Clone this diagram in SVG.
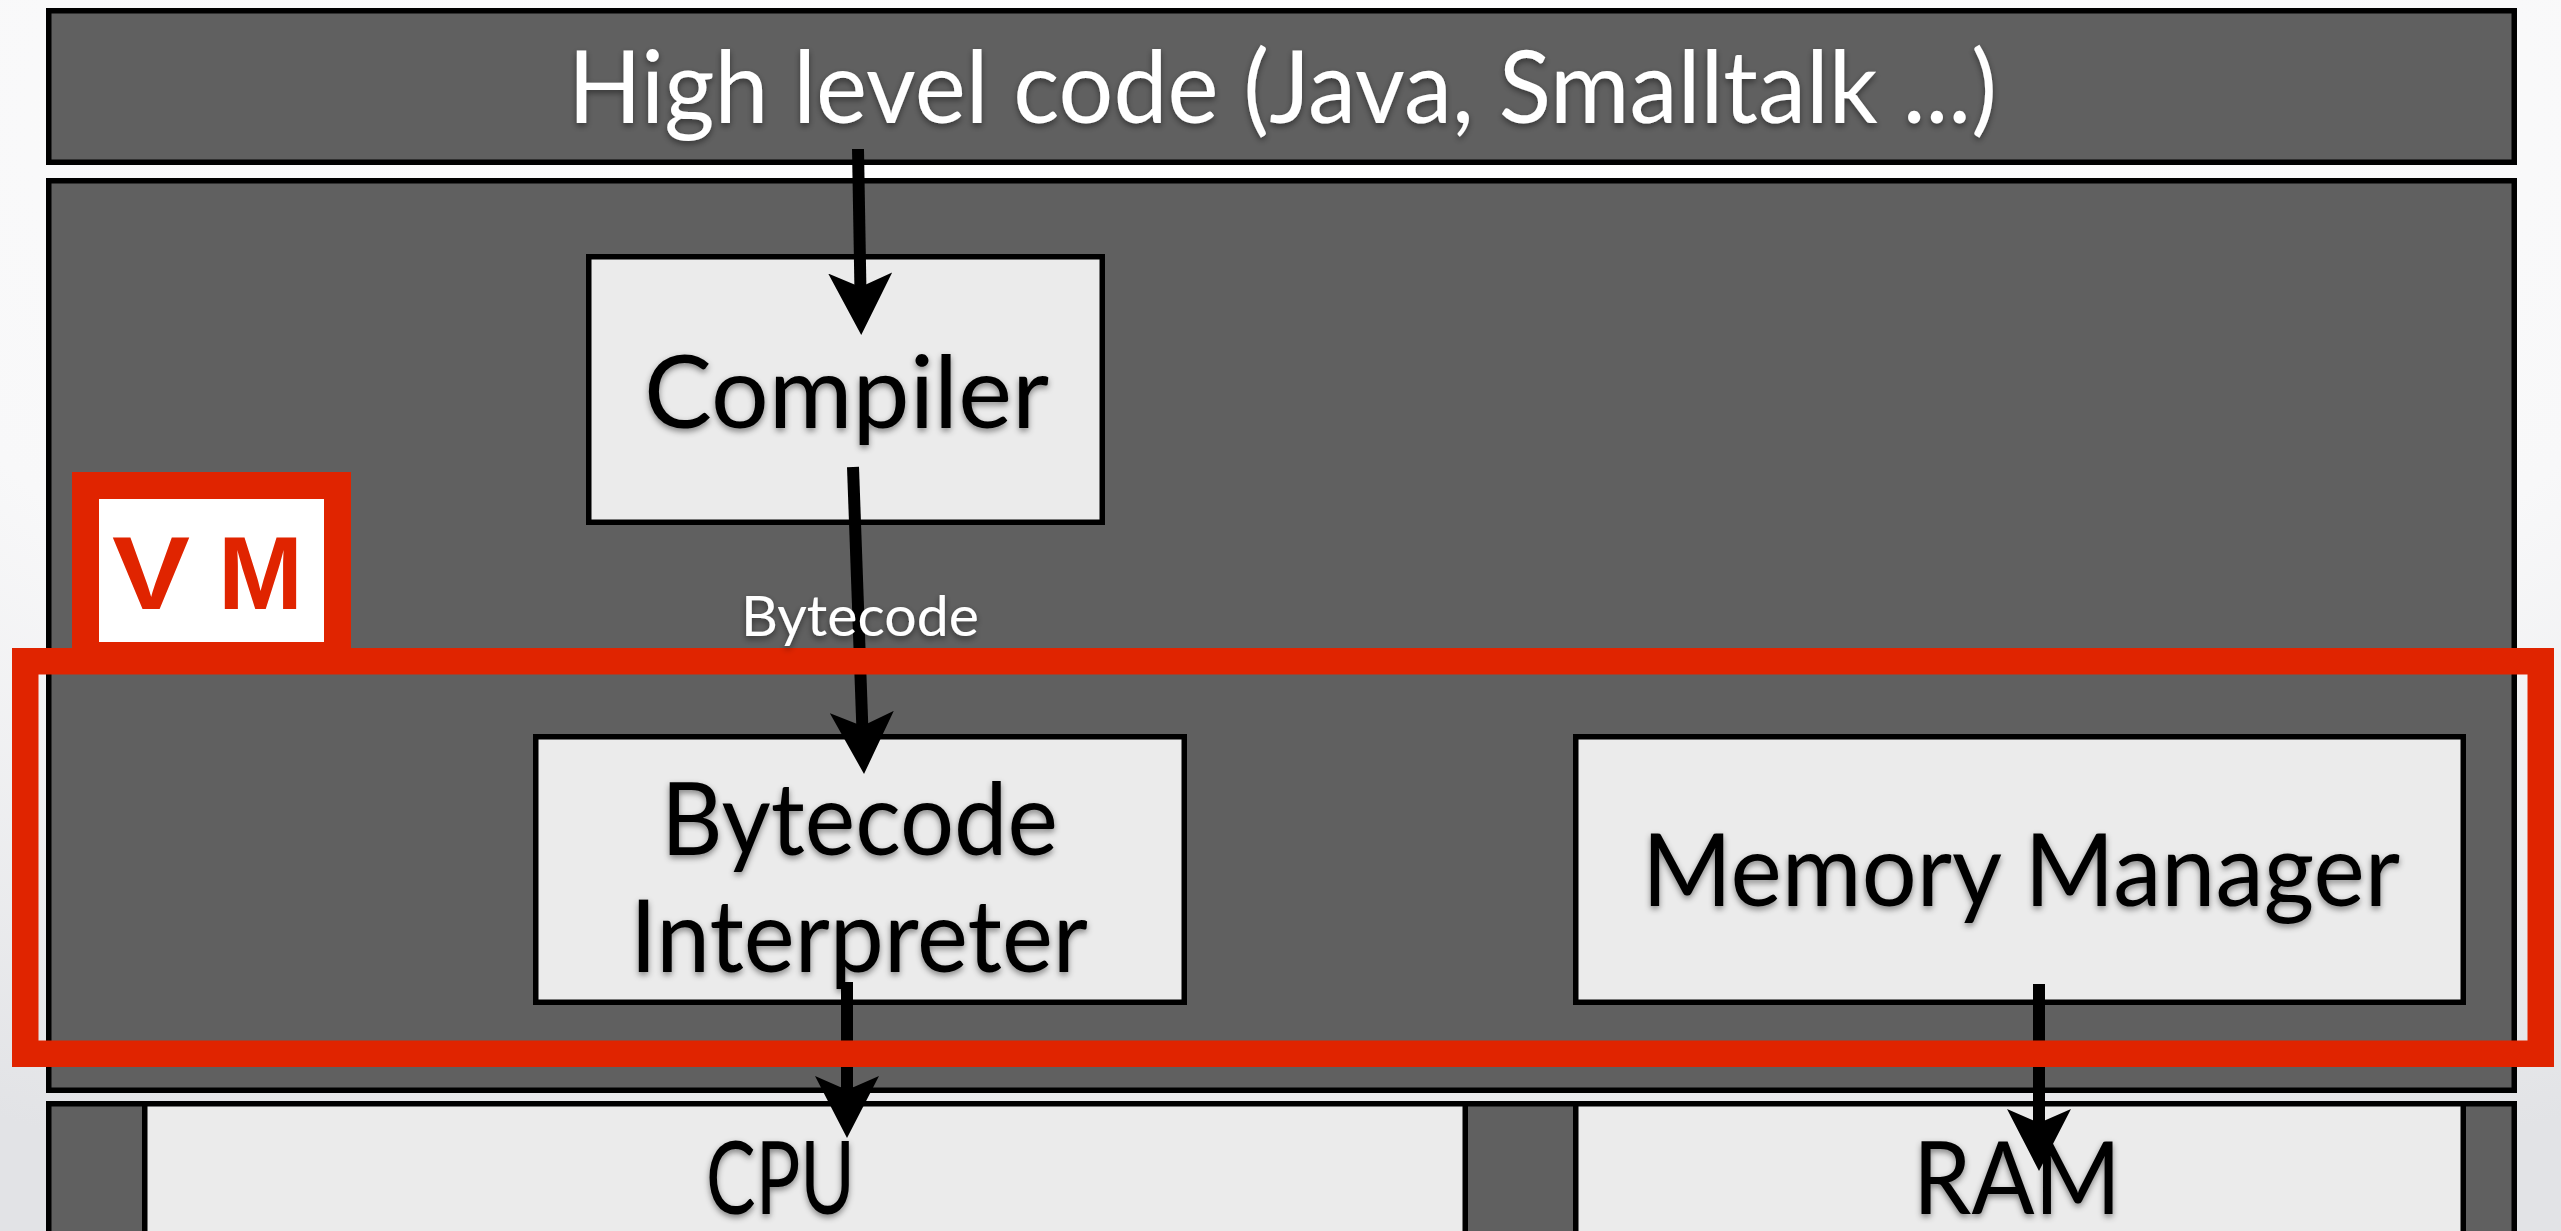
<svg xmlns="http://www.w3.org/2000/svg" width="2561" height="1231" viewBox="0 0 2561 1231">
  <defs>
    <radialGradient id="bg" cx="50%" cy="10%" r="95%">
      <stop offset="0" stop-color="#ffffff"/>
      <stop offset="0.6" stop-color="#f8f8f9"/>
      <stop offset="1" stop-color="#e2e3e6"/>
    </radialGradient>
    <filter id="tshadow" x="-5%" y="-20%" width="110%" height="150%">
      <feDropShadow dx="0" dy="3" stdDeviation="3" flood-color="#000" flood-opacity="0.45"/>
    </filter>
    <marker id="arrow" viewBox="0 -32 62 64" refX="14" refY="0" markerWidth="62" markerHeight="64" markerUnits="userSpaceOnUse" orient="auto">
      <path d="M62,0 L0,-32 L14,0 L0,32 Z" fill="#000"/>
    </marker>
    <style>
      .panel { fill: #606060; stroke: #000; stroke-width: 5.5; }
      .box { fill: #ebebeb; stroke: #000; stroke-width: 5.5; }
      .lbl { font-family: Lato, "Open Sans", "Liberation Sans", sans-serif; font-size: 101px; fill: #000; filter: url(#tshadow); }
      .wlbl { font-family: Lato, "Open Sans", "Liberation Sans", sans-serif; fill: #fff; filter: url(#tshadow); }
      .conn { stroke: #000; stroke-width: 12; fill: none; marker-end: url(#arrow); }
      .red { fill: none; stroke: #e02400; stroke-width: 26.5; }
    </style>
  </defs>

  <rect x="0" y="0" width="2561" height="1231" fill="url(#bg)"/>

  <g id="high-level">
    <rect class="panel" x="48.75" y="10.75" width="2465.5" height="151.5"/>
    <text class="wlbl" x="568" y="123" font-size="101" textLength="1429" lengthAdjust="spacingAndGlyphs">High level code (Java, Smalltalk ...)</text>
  </g>

  <g id="vm-layer">
    <rect class="panel" x="48.75" y="180.75" width="2465.5" height="909.5"/>
  </g>

  <g id="hardware-layer">
    <rect class="panel" x="48.75" y="1103.75" width="2465.5" height="160"/>
  </g>

  <g id="compiler">
    <rect class="box" x="588.75" y="256.75" width="513.5" height="265.5"/>
    <text class="lbl" x="644" y="428" textLength="405" lengthAdjust="spacingAndGlyphs">Compiler</text>
  </g>

  <g id="bytecode-interpreter">
    <rect class="box" x="535.75" y="736.75" width="648.5" height="265.5"/>
    <text class="lbl" x="661" y="855" textLength="397" lengthAdjust="spacingAndGlyphs">Bytecode</text>
    <text class="lbl" x="630" y="972" textLength="458" lengthAdjust="spacingAndGlyphs">Interpreter</text>
  </g>

  <g id="memory-manager">
    <rect class="box" x="1575.75" y="736.75" width="887.5" height="265.5"/>
    <text class="lbl" x="1642" y="906" textLength="758" lengthAdjust="spacingAndGlyphs">Memory Manager</text>
  </g>

  <g id="cpu">
    <rect class="box" x="144.75" y="1103.75" width="1320.5" height="160"/>
    <text class="lbl" x="706" y="1214" textLength="149" lengthAdjust="spacingAndGlyphs">CPU</text>
  </g>

  <g id="ram">
    <rect class="box" x="1575.75" y="1103.75" width="887.5" height="160"/>
    <text class="lbl" x="1913" y="1214" textLength="208" lengthAdjust="spacingAndGlyphs">RAM</text>
  </g>

  <g id="connectors">
    <line class="conn" x1="858" y1="149" x2="860.4" y2="287"/>
    <line class="conn" x1="853" y1="467" x2="862.3" y2="726"/>
    <line class="conn" x1="847" y1="982" x2="847" y2="1090"/>
    <line class="conn" x1="2039" y1="984" x2="2039" y2="1123"/>
  </g>

  <g id="vm-frame">
    <rect class="red" x="25.25" y="661.25" width="2515.5" height="392.5"/>
    <rect x="85.5" y="485.5" width="252" height="170" fill="#fff" stroke="#e02400" stroke-width="27"/>
    <text y="609" font-family="'Liberation Sans', Arial, sans-serif" font-weight="bold" font-size="103" fill="#e02400"><tspan x="112" textLength="78" lengthAdjust="spacingAndGlyphs">V</tspan><tspan x="218" textLength="85" lengthAdjust="spacingAndGlyphs">M</tspan></text>
  </g>

  <g id="bytecode-label">
    <text class="wlbl" x="741" y="636" font-size="56" textLength="238" lengthAdjust="spacingAndGlyphs">Bytecode</text>
  </g>
</svg>
